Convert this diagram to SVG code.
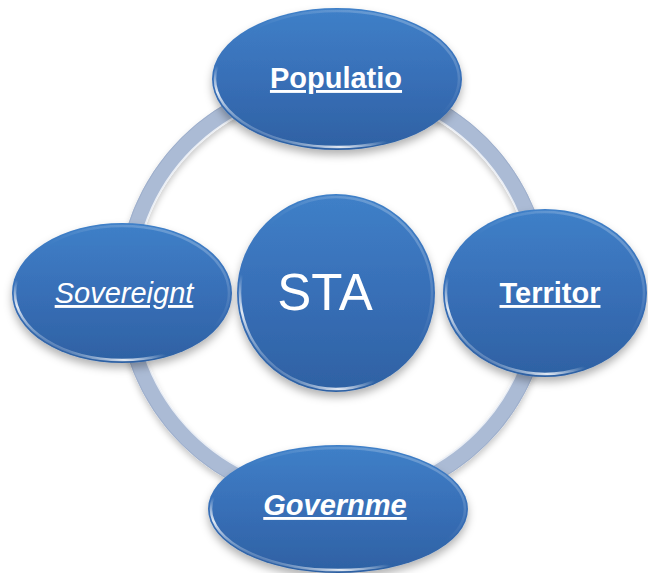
<svg xmlns="http://www.w3.org/2000/svg" width="648" height="573" viewBox="0 0 648 573">
  <defs>
    <linearGradient id="nodeFill" x1="0" y1="0" x2="0" y2="1">
      <stop offset="0" stop-color="#3f80c8"/>
      <stop offset="0.5" stop-color="#386fb7"/>
      <stop offset="1" stop-color="#2e61a3"/>
    </linearGradient>
    <linearGradient id="rimGlow" x1="0.9" y1="0" x2="0.1" y2="1">
      <stop offset="0" stop-color="#ffffff" stop-opacity="0.3"/>
      <stop offset="0.45" stop-color="#ffffff" stop-opacity="0"/>
      <stop offset="0.68" stop-color="#ffffff" stop-opacity="0"/>
      <stop offset="0.8" stop-color="#ffffff" stop-opacity="0.85"/>
      <stop offset="0.92" stop-color="#ffffff" stop-opacity="0"/>
    </linearGradient>
    <filter id="shadow" x="-20%" y="-20%" width="140%" height="150%">
      <feDropShadow dx="0" dy="5" stdDeviation="4" flood-color="#000000" flood-opacity="0.3"/>
    </filter>
    <filter id="ringShadow" x="-10%" y="-10%" width="120%" height="125%">
      <feDropShadow dx="0" dy="4" stdDeviation="3" flood-color="#000000" flood-opacity="0.22"/>
    </filter>
  </defs>
  <style>
    .node { fill: url(#nodeFill); filter: url(#shadow); }
    .rim { fill: none; stroke: url(#rimGlow); stroke-width: 2.5; }
    .label { fill: #ffffff; font-family: "Liberation Sans", Arial, sans-serif; font-size: 29px; text-decoration: underline; text-anchor: middle; }
    .bold { font-weight: bold; }
    .italic { font-style: italic; }
    .center { fill: #ffffff; font-family: "Liberation Sans", Arial, sans-serif; font-size: 51px; text-anchor: middle; }
  </style>
  <rect width="648" height="573" fill="#ffffff"/>

  <g id="connectors">
    <circle cx="334" cy="291" r="208" fill="none" stroke="#abbbd5" stroke-width="17" filter="url(#ringShadow)"/>
    <circle cx="334" cy="291" r="200" fill="none" stroke="#ffffff" stroke-opacity="0.75" stroke-width="2"/>
    <circle cx="334" cy="291" r="216" fill="none" stroke="#8fa2c2" stroke-opacity="0.5" stroke-width="1"/>
  </g>

  <g id="node-population">
    <ellipse class="node" cx="337" cy="79" rx="125" ry="71"/>
    <ellipse class="rim" cx="337" cy="79" rx="122" ry="68"/>
    <text class="label bold" x="336" y="88">Populatio</text>
  </g>

  <g id="node-sovereignty">
    <ellipse class="node" cx="122" cy="293" rx="110" ry="70"/>
    <ellipse class="rim" cx="122" cy="293" rx="107" ry="67"/>
    <text class="label italic" x="124" y="303">Sovereignt</text>
  </g>

  <g id="node-territory">
    <ellipse class="node" cx="545" cy="293" rx="102" ry="84"/>
    <ellipse class="rim" cx="545" cy="293" rx="99" ry="81"/>
    <text class="label bold" x="550" y="303">Territor</text>
  </g>

  <g id="node-government">
    <ellipse class="node" cx="338" cy="509" rx="130" ry="64"/>
    <ellipse class="rim" cx="338" cy="509" rx="127" ry="61"/>
    <text class="label bold italic" x="335" y="515">Governme</text>
  </g>

  <g id="node-state">
    <circle class="node" cx="336" cy="293" r="99"/>
    <circle class="rim" cx="336" cy="293" r="96"/>
    <text class="center" x="325" y="310">STA</text>
  </g>
</svg>
